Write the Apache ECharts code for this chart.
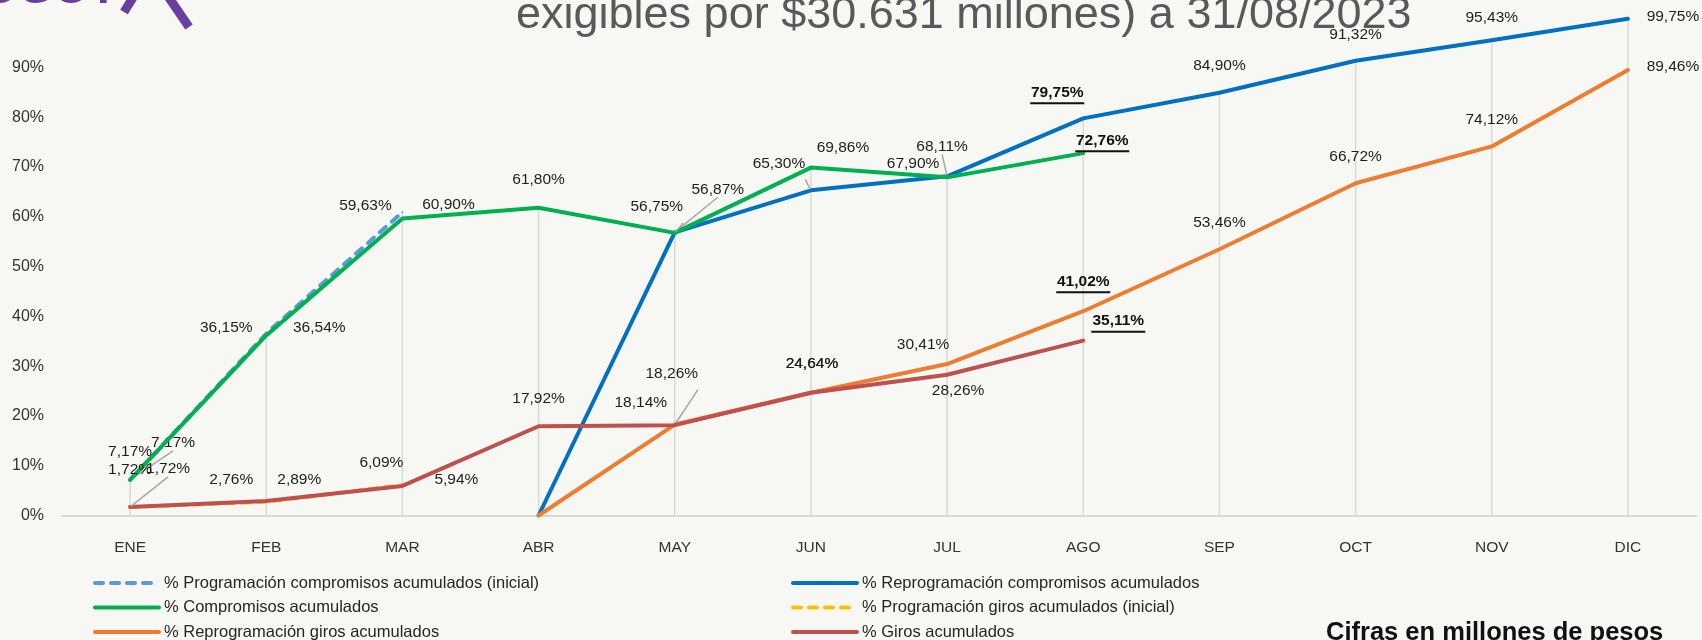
<!DOCTYPE html>
<html>
<head>
<meta charset="utf-8">
<script src="https://cdn.jsdelivr.net/npm/echarts@6.0.0/dist/echarts.min.js"></script>
<style>
html, body { margin: 0; padding: 0; background: #f7f8f4; }
#myChart { width: 1702px; height: 640px; }
</style>
</head>
<body>
<div id="myChart"></div>
<script>
const meses = ['ENE', 'FEB', 'MAR', 'ABR', 'MAY', 'JUN', 'JUL', 'AGO', 'SEP', 'OCT', 'NOV', 'DIC']
const yTicks = [0, 10, 20, 30, 40, 50, 60, 70, 80, 90, 100]

const nombres = [
    '% Programación compromisos acumulados (inicial)',
    '% Reprogramación compromisos acumulados',
    '% Compromisos acumulados',
    '% Programación giros acumulados (inicial)',
    '% Reprogramación giros acumulados',
    '% Giros acumulados'
]

// valores en %
const progCompIni = [7.17, 36.54, 60.90, null, null, null, null, null, null, null, null, null]
const reprogComp = [null, null, null, 0, 56.87, 65.30, 68.11, 79.75, 84.90, 91.32, 95.43, 99.75]
const compromisos = [7.17, 36.15, 59.63, 61.80, 56.75, 69.86, 67.90, 72.76, null, null, null, null]
const progGirosIni = [1.72, 2.76, 6.09, null, null, null, null, null, null, null, null, null]
const reprogGiros = [null, null, null, 0, 18.26, 24.64, 30.41, 41.02, 53.46, 66.72, 74.12, 89.46]
const giros = [1.72, 2.89, 5.94, 17.92, 18.14, 24.64, 28.26, 35.11, null, null, null, null]

const colores = ['#5b9bd5', '#0070c0', '#00b050', '#ffc000', '#ed7d31', '#c0504d']
const fuente = 'Liberation Sans'
const mesCorte = 7 // AGO: etiquetas en negrilla y subrayadas

// ubicacion de cada etiqueta respecto a su punto: [dx, dy, linea guia]
const posProgComp = { 0: [43, -37, 1], 1: [53, -6], 2: [46, -7] }
const posReprogComp = { 4: [43, -43, 1], 5: [-32, -27, 1], 6: [-5, -30, 1], 7: [-26, -24], 8: [0, -27], 9: [0, -26], 10: [0, -23], 11: [45, -2] }
const posComp = { 0: [0, -28], 1: [-40, -8], 2: [-37, -13], 3: [0, -28], 4: [-18, -26, 1], 5: [32, -20], 6: [-34, -14], 7: [19, -11] }
const posProgGiros = { 0: [0, -37], 1: [-35, -22], 2: [-21, -22] }
const posReprogGiros = { 4: [-3, -51, 1], 5: [1, -29], 6: [-24, -19], 7: [0, -28], 8: [0, -27], 9: [0, -27], 10: [0, -27], 11: [45, -3] }
const posGiros = { 0: [38, -38, 1], 1: [33, -21], 2: [54, -6], 3: [0, -28], 4: [-34, -22], 5: [1, -29], 6: [11, 16], 7: [35, -18] }

function fmt (v) {
    return v.toFixed(2).replace('.', ',') + '%'
}

function armarDatos (valores, pos) {
    return valores.map((v, i) => {
        if (v === null) return '-'
        const p = pos[i]
        const item = { value: v }
        if (!p) {
            item.label = { show: false }
        } else {
            item.label = { offset: [p[0], p[1]] }
            if (p[2]) item.labelLine = { show: true, lineStyle: { color: '#a6a6a6', width: 1.5 } }
        }
        return item
    })
}

function serie (idx, valores, pos, discontinua) {
    const color = colores[idx]
    return {
        name: nombres[idx],
        type: 'line',
        data: armarDatos(valores, pos),
        symbol: 'circle',
        symbolSize: 2,
        showSymbol: true,
        z: 3 + idx,
        lineStyle: { color: color, width: 4, type: discontinua ? [8, 8] : 'solid', cap: 'round', join: 'round' },
        itemStyle: { color: color },
        label: {
            show: true,
            position: 'inside',
            color: '#1e1e1e',
            fontFamily: fuente,
            fontSize: 15.5,
            formatter: function (p) {
                const t = fmt(p.value)
                return p.dataIndex === mesCorte ? '{b|' + t + '}\n{u| }' : t
            },
            rich: {
                b: { fontFamily: fuente, fontSize: 15.5, fontWeight: 'bold', color: '#111', lineHeight: 18 },
                u: { width: 54, height: 2, lineHeight: 3, fontSize: 1, backgroundColor: '#111' }
            }
        },
        labelLine: { show: false },
        emphasis: { disabled: true },
        silent: true
    }
}

const series = [
    serie(0, progCompIni, posProgComp, true),
    serie(1, reprogComp, posReprogComp, false),
    serie(2, compromisos, posComp, false),
    serie(3, progGirosIni, posProgGiros, true),
    serie(4, reprogGiros, posReprogGiros, false),
    serie(5, giros, posGiros, false)
]

// lineas de proyeccion: desde el punto mas alto de cada mes hasta el eje
const maximos = meses.map((m, i) => {
    const vals = [progCompIni, reprogComp, compromisos, progGirosIni, reprogGiros, giros]
        .map(a => a[i]).filter(v => v !== null)
    return Math.max.apply(null, vals)
})
series.unshift({
    name: 'proyeccion',
    type: 'bar',
    data: maximos,
    barWidth: 1.5,
    itemStyle: { color: '#d9d9d9' },
    z: 1,
    silent: true
})

const chart = echarts.init(document.getElementById('myChart'))

const leyendaTexto = { fontFamily: fuente, fontSize: 16.5, lineHeight: 20, color: '#262626' }
const leyendaBase = {
    top: 573, orient: 'vertical', padding: 0, height: 90,
    itemWidth: 64, itemHeight: 4, itemGap: 4.5,
    selectedMode: false,
    lineStyle: { width: 4, cap: 'round' },
    textStyle: leyendaTexto
}

const option = {
    animation: false,
    backgroundColor: '#f7f8f4',
    grid: { left: 62, right: 6, top: 17.5, bottom: 124.5, outerBoundsMode: 'none' },
    xAxis: {
        type: 'category',
        data: meses,
        boundaryGap: true,
        axisLine: { lineStyle: { color: '#d9d9d9', width: 2 } },
        axisTick: { show: false },
        splitLine: { show: false },
        axisLabel: { margin: 24, fontFamily: fuente, fontSize: 15.5, color: '#333' }
    },
    yAxis: {
        type: 'value',
        min: yTicks[0],
        max: yTicks[yTicks.length - 1],
        interval: 10,
        axisLine: { show: false },
        axisTick: { show: false },
        splitLine: { show: false },
        axisLabel: {
            margin: 18,
            fontFamily: fuente,
            fontSize: 16,
            color: '#333',
            formatter: v => v === 100 ? '' : v + '%'
        }
    },
    legend: [
        Object.assign({}, leyendaBase, { left: 93, data: [nombres[0], nombres[2], nombres[4]] }),
        Object.assign({}, leyendaBase, { left: 791, data: [nombres[1], nombres[3], nombres[5]] })
    ],
    graphic: [
        {
            type: 'text', left: 516, top: -7, silent: true,
            style: { text: 'exigibles por $30.631 millones) a 31/08/2023', fill: '#595959', font: '45px "Liberation Sans"' }
        },
        {
            type: 'text', left: -18, top: -33, silent: true,
            style: { text: 'OGOT', fill: '#6a3ea1', font: 'bold 46px "Liberation Sans"' }
        },
        {
            type: 'polyline', silent: true,
            shape: { points: [[124, 12], [150, -30], [189, 27]] },
            style: { stroke: '#6a3ea1', lineWidth: 9, fill: null }
        },
        {
            type: 'text', left: 1326, top: 620, silent: true,
            style: { text: 'Cifras en millones de pesos', fill: '#111', font: 'bold 25.5px "Liberation Sans"' }
        }
    ],
    series: series
}

option && chart.setOption(option)
</script>
</body>
</html>
